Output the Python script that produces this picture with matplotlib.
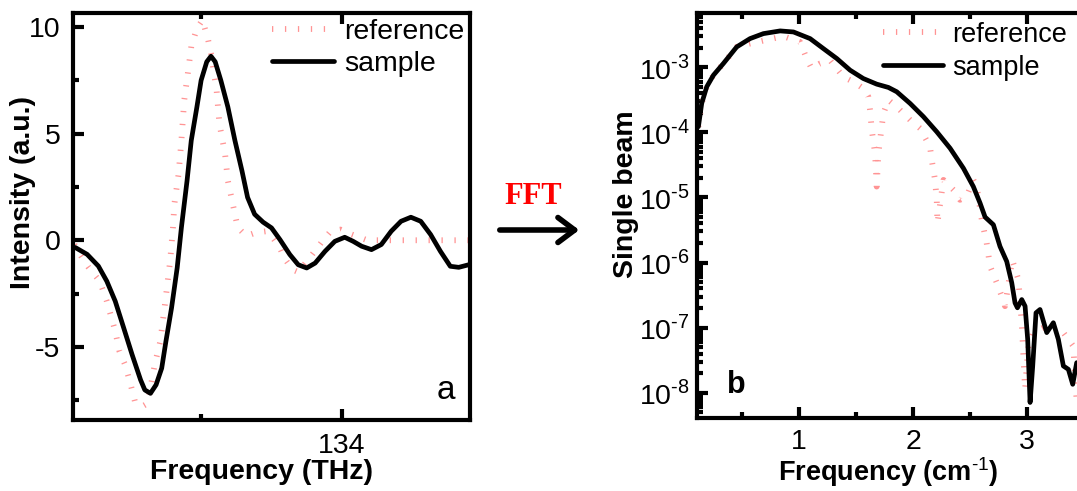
import matplotlib
matplotlib.use("Agg")
import matplotlib.pyplot as plt
from matplotlib.patches import FancyArrowPatch
from matplotlib.ticker import (FixedLocator, NullFormatter, FuncFormatter, LogLocator)
import numpy as np

plt.rcParams['font.family'] = ['Liberation Sans', 'DejaVu Sans']
plt.rcParams['axes.unicode_minus'] = False
plt.rcParams['mathtext.fontset'] = 'custom'
plt.rcParams['mathtext.rm'] = 'Liberation Sans'
plt.rcParams['mathtext.bf'] = 'Liberation Sans:bold'

# ---- panel a: pulse ----
a_sample_x = [132.106, 132.19, 132.27, 132.33, 132.39, 132.45, 132.51, 132.57, 132.60, 132.64,
              132.68, 132.72, 132.75, 132.79, 132.83, 132.86, 132.90, 132.93, 132.97, 133.00,
              133.04, 133.07, 133.10, 133.14, 133.19, 133.24, 133.29, 133.33, 133.38, 133.44,
              133.50, 133.56, 133.63, 133.69, 133.75, 133.81, 133.88, 133.95, 134.02, 134.08,
              134.14, 134.21, 134.28, 134.35, 134.42, 134.49, 134.56, 134.63, 134.70, 134.77,
              134.83, 134.90]
a_sample_y = [-0.34, -0.66, -1.21, -1.92, -2.86, -4.11, -5.37, -6.55, -7.02, -7.18,
              -6.78, -6.0, -4.74, -3.17, -1.29, 0.60, 2.79, 4.68, 6.25, 7.50,
              8.37, 8.63, 8.37, 7.50, 6.25, 4.68, 3.26, 2.01, 1.22, 0.85,
              0.58, 0.03, -0.67, -1.15, -1.30, -1.07, -0.52, -0.05, 0.14, -0.05,
              -0.28, -0.44, -0.20, 0.42, 0.89, 1.08, 0.89, 0.27, -0.52, -1.22,
              -1.27, -1.15]
a_ref_x = [132.10, 132.13, 132.20, 132.28, 132.33, 132.39, 132.42, 132.46, 132.50, 132.53,
           132.58, 132.62, 132.67, 132.71, 132.74, 132.78, 132.80, 132.81, 132.84, 132.86,
           132.88, 132.91, 132.93, 132.97, 133.01, 133.05, 133.07, 133.11, 133.13, 133.17,
           133.19, 133.23, 133.26, 133.32, 133.39, 133.46, 133.51, 133.56, 133.59, 133.65,
           133.69, 133.77, 133.87, 133.92, 133.99, 134.07, 134.18, 134.50, 134.91]
a_ref_y = [-0.2, -0.57, -1.27, -1.92, -2.86, -4.27, -5.21, -5.84, -6.78, -7.57,
           -7.80, -7.65, -5.84, -4.74, -3.17, -0.97, 0.60, 1.70, 3.11, 4.68,
           6.56, 8.05, 9.08, 9.94, 10.33, 9.39, 8.76, 7.03, 5.46, 4.05,
           2.79, 1.54, 0.60, 0.20, 0.36, 0.42, 0.11, -0.36, -0.83, -1.38,
           -1.49, -0.83, 0.03, 0.42, 0.50, 0.27, 0.0, 0.0, 0.0]
a_xticks = [134]
a_xminor = [133]
a_yticks = [-5, 0, 5, 10]
a_yminor = [-7.5, -2.5, 2.5, 7.5]

# ---- panel b: spectrum ----
b_sample_x = [0.117, 0.146, 0.190, 0.249, 0.336, 0.453, 0.570, 0.687, 0.834, 0.951,
              1.097, 1.214, 1.331, 1.448, 1.564, 1.681, 1.784, 1.857, 1.974, 2.091,
              2.208, 2.325, 2.442, 2.529, 2.588, 2.632, 2.705, 2.763, 2.822, 2.866,
              2.895, 2.916, 2.954, 2.983, 3.006, 3.027, 3.050, 3.079, 3.114, 3.173,
              3.231, 3.275, 3.319, 3.363, 3.401, 3.436]
b_sample_y = [1.22e-4, 2.78e-4, 5.0e-4, 7.55e-4, 1.14e-3, 2.05e-3, 2.75e-3, 3.28e-3, 3.61e-3, 3.48e-3,
              2.75e-3, 1.93e-3, 1.36e-3, 9.0e-4, 6.7e-4, 5.5e-4, 4.89e-4, 4.2e-4, 2.78e-4, 1.74e-4,
              1.02e-4, 5.7e-5, 2.81e-5, 1.47e-5, 8.2e-6, 5.0e-6, 3.81e-6, 1.77e-6, 1.04e-6, 4.9e-7,
              2.4e-7, 2.02e-7, 2.7e-7, 2.14e-7, 6.6e-8, 7.1e-9, 2.58e-8, 1.69e-7, 1.9e-7, 8.4e-8,
              1.19e-7, 6.6e-8, 2.58e-8, 2.29e-8, 1.35e-8, 2.9e-8]
b_ref_x = [0.117, 0.146, 0.190, 0.249, 0.336, 0.453, 0.570, 0.863, 1.009, 1.067,
           1.111, 1.184, 1.272, 1.389, 1.477, 1.564, 1.608, 1.623, 1.638, 1.667,
           1.681, 1.696, 1.740, 1.784, 1.857, 1.974, 2.062, 2.149, 2.164, 2.193,
           2.208, 2.214, 2.267, 2.354, 2.412, 2.471, 2.529, 2.559, 2.603, 2.646,
           2.676, 2.734, 2.778, 2.807, 2.870, 2.924, 2.954, 2.983, 3.012, 3.056,
           3.173, 3.261, 3.319, 3.406, 3.436]
b_ref_y = [1.22e-4, 2.78e-4, 5.0e-4, 7.55e-4, 1.14e-3, 2.05e-3, 2.31e-3, 2.99e-3, 2.44e-3, 1.36e-3,
           9.5e-4, 1.14e-3, 1.28e-3, 7.1e-4, 5.97e-4, 4.72e-4, 3.52e-4, 2.2e-4, 1.09e-4, 4.76e-5,
           1.47e-5, 4.76e-5, 1.95e-4, 3.13e-4, 2.47e-4, 1.55e-4, 1.15e-4, 6.0e-5, 3.77e-5, 1.86e-5,
           9.2e-6, 4.04e-6, 1.86e-5, 1.31e-5, 9.2e-6, 1.04e-5, 1.86e-5, 1.47e-5, 4.54e-6, 2.0e-6,
           8.8e-7, 4.9e-7, 3.04e-7, 2.14e-7, 1.1e-6, 5.5e-7, 1.19e-7, 1.13e-8, 5.2e-8, 8.4e-8,
           1.06e-7, 1.06e-7, 8.4e-8, 5.2e-8, 7.1e-9]
b_xticks = [1, 2, 3]
b_xminor = [0.5, 1.5, 2.5, 3.5]
b_yticks = [1e-8, 1e-7, 1e-6, 1e-5, 1e-4, 1e-3]

ref_color = '#ff9494'
ref_style = dict(color=ref_color, lw=4.2, ls=(0, (0.22, 2.0)), dash_capstyle='butt')
sample_style = dict(color='black', lw=3.4, solid_joinstyle='round', solid_capstyle='round')
spine_w = 3.0
FS = 20.5

fig = plt.figure(figsize=(10.77, 4.91), dpi=100)

# ---------------- panel a ----------------
ax1 = fig.add_axes([0.0678, 0.1446, 0.3686, 0.829])
ax1.plot(a_ref_x, a_ref_y, label='reference', **ref_style)
ax1.plot(a_sample_x, a_sample_y, label='sample', **sample_style)
ax1.set_xlim(132.09, 134.91)
ax1.set_ylim(-8.43, 10.66)
ax1.xaxis.set_major_locator(FixedLocator(a_xticks))
ax1.xaxis.set_minor_locator(FixedLocator(a_xminor))
ax1.yaxis.set_major_locator(FixedLocator(a_yticks))
ax1.yaxis.set_minor_locator(FixedLocator(a_yminor))
ax1.tick_params(which='both', direction='in', top=True, right=False, labelsize=FS, width=3)
ax1.tick_params(which='major', length=8)
ax1.tick_params(which='minor', length=4)
ax1.tick_params(axis='x', pad=9)
ax1.tick_params(axis='y', pad=9)
for s in ax1.spines.values():
    s.set_linewidth(spine_w)
ax1.set_xlabel('Frequency (THz)', fontsize=FS, fontweight='bold', va='top')
ax1.xaxis.set_label_coords(0.474, -0.095)
ax1.set_ylabel('Intensity (a.u.)', fontsize=FS, fontweight='bold')
ax1.yaxis.set_label_coords(-0.094, 0.56)
ax1.legend(loc='upper left', bbox_to_anchor=(0.50, 0.985), frameon=False, fontsize=FS,
           handlelength=2.2, handletextpad=0.35, borderaxespad=0.0, labelspacing=0.2,
           borderpad=0.0)
ax1.text(0.962, 0.035, 'a', transform=ax1.transAxes, fontsize=24, ha='right', va='bottom')

# ---------------- panel b ----------------
ax2 = fig.add_axes([0.6472, 0.1487, 0.3593, 0.8248])
ax2.plot(b_ref_x, b_ref_y, label='reference', **ref_style)
ax2.plot(b_sample_x, b_sample_y, label='sample', **sample_style)
ax2.set_yscale('log')
ax2.set_xlim(0.105, 3.5)
ax2.set_ylim(4.1e-9, 6.8e-3)
ax2.xaxis.set_major_locator(FixedLocator(b_xticks))
ax2.xaxis.set_minor_locator(FixedLocator(b_xminor))
ax2.yaxis.set_major_locator(FixedLocator(b_yticks))
ax2.yaxis.set_minor_locator(LogLocator(base=10, subs=range(2, 10), numticks=50))
ax2.yaxis.set_minor_formatter(NullFormatter())
ax2.yaxis.set_major_formatter(FuncFormatter(
    lambda v, p: r'10$^{\text{-%d}}$' % int(round(-np.log10(v)))))
ax2.tick_params(which='both', direction='in', top=True, right=False, labelsize=FS, width=3)
ax2.tick_params(which='major', length=8)
ax2.tick_params(which='minor', length=4)
ax2.tick_params(axis='x', pad=8)
ax2.tick_params(axis='y', pad=5)
for s in ax2.spines.values():
    s.set_linewidth(spine_w)
ax2.set_xlabel(r'Frequency (cm$^{\text{-1}}$)', fontsize=19.5, fontweight='bold', va='top')
ax2.xaxis.set_label_coords(0.494, -0.093)
ax2.set_ylabel('Single beam', fontsize=FS, fontweight='bold')
ax2.yaxis.set_label_coords(-0.150, 0.553)
ax2.legend(loc='upper left', bbox_to_anchor=(0.481, 0.978), frameon=False, fontsize=19.5,
           handlelength=2.2, handletextpad=0.35, borderaxespad=0.0, labelspacing=0.25,
           borderpad=0.0)
ax2.text(0.078, 0.045, 'b', transform=ax2.transAxes, fontsize=22, fontweight='bold',
         ha='left', va='bottom')

# ---------------- FFT arrow ----------------
fig.text(533 / 1077, 1 - 196 / 491, 'FFT', color='red', fontsize=22, fontweight='bold',
         family=['Liberation Serif', 'DejaVu Serif'], ha='center', va='center')
fig.add_artist(FancyArrowPatch(
    (497 / 1077, 1 - 230 / 491), (582 / 1077, 1 - 230 / 491),
    transform=fig.transFigure, arrowstyle='->,head_length=8,head_width=6',
    lw=4, color='black', mutation_scale=1.5))

fig.savefig('out.png', dpi=100)
